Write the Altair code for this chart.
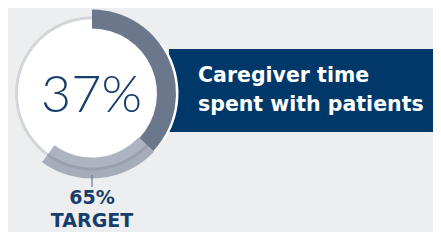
import math
import altair as alt
import pandas as pd

# ---- data ----
actual_share = [0.37]          # caregiver time spent with patients
target_arc = [0.37, 0.60]      # light band drawn from actual value round to its end
target_label = ["65%", "TARGET"]
centre_label = ["37%"]
title_lines = ["Caregiver time", "spent with patients"]

BG = "#edeef0"
NAVY = "#01386a"
TEXT_NAVY = "#173e6b"
SLATE = "#6b778b"

W, H = 425, 224
CX, CY = 84, 85.5

turn = alt.Scale(domain=[0, 1], range=[0, 2 * math.pi])


def arc_layer(start, end, outer, inner, color, opacity=1.0):
    df = pd.DataFrame({"start": [start], "end": [end]})
    return alt.Chart(df).mark_arc(
        radius=outer, radius2=inner, color=color, opacity=opacity
    ).encode(
        theta=alt.Theta("start:Q", scale=turn),
        theta2="end:Q",
        x=alt.value(CX),
        y=alt.value(CY),
    )


box = alt.Chart(pd.DataFrame({"k": [0]})).mark_rect(color=NAVY).encode(
    x=alt.value(161), x2=alt.value(W), y=alt.value(41), y2=alt.value(124)
)

white_gap = arc_layer(0.15, 0.34, 86.5, 83, "white")
thin_ring = arc_layer(0.0, 1.0, 77, 74, "#d3d5d9")
disk = arc_layer(0.0, 1.0, 74, 0, "white")
actual_arc = arc_layer(0.0, actual_share[0], 84, 65, SLATE)
target_band = arc_layer(target_arc[0], target_arc[1], 85, 64, SLATE, 0.55)

tick = alt.Chart(pd.DataFrame({"k": [0]})).mark_rule(color=SLATE, strokeWidth=1.2).encode(
    x=alt.value(CX), y=alt.value(167), y2=alt.value(179)
)

centre = alt.Chart(pd.DataFrame({"t": centre_label})).mark_text(
    font="Lato", fontWeight=300, fontSize=52, color=TEXT_NAVY,
    align="center", baseline="alphabetic"
).encode(text="t:N", x=alt.value(CX - 0.5), y=alt.value(104))

row_pos_target = alt.Scale(domain=[0, 1], range=[196, 219])
tdf = pd.DataFrame({"t": target_label, "row": [0, 1]})
target_txt = alt.Chart(tdf).mark_text(
    font="DejaVu Sans", fontWeight="bold", fontSize=19, color=TEXT_NAVY,
    align="center", baseline="alphabetic"
).encode(
    text="t:N",
    x=alt.value(CX),
    y=alt.Y("row:Q", scale=row_pos_target, axis=None),
)

row_pos_title = alt.Scale(domain=[0, 1], range=[74, 103])
hdf = pd.DataFrame({"t": title_lines, "row": [0, 1]})
title_txt = alt.Chart(hdf).mark_text(
    font="DejaVu Sans", fontWeight="bold", fontSize=20.5, color="white",
    align="left", baseline="alphabetic"
).encode(
    text="t:N",
    x=alt.value(190),
    y=alt.Y("row:Q", scale=row_pos_title, axis=None),
)

chart = alt.layer(
    box, white_gap, thin_ring, disk, actual_arc, target_band, tick,
    centre, target_txt, title_txt
).resolve_scale(y="independent").properties(
    width=W, height=H, background=BG, padding=0,
    autosize=alt.AutoSizeParams(type="none"),
).configure_view(stroke=None)

chart.save("out.html", embed_options={"renderer": "svg", "actions": False})
